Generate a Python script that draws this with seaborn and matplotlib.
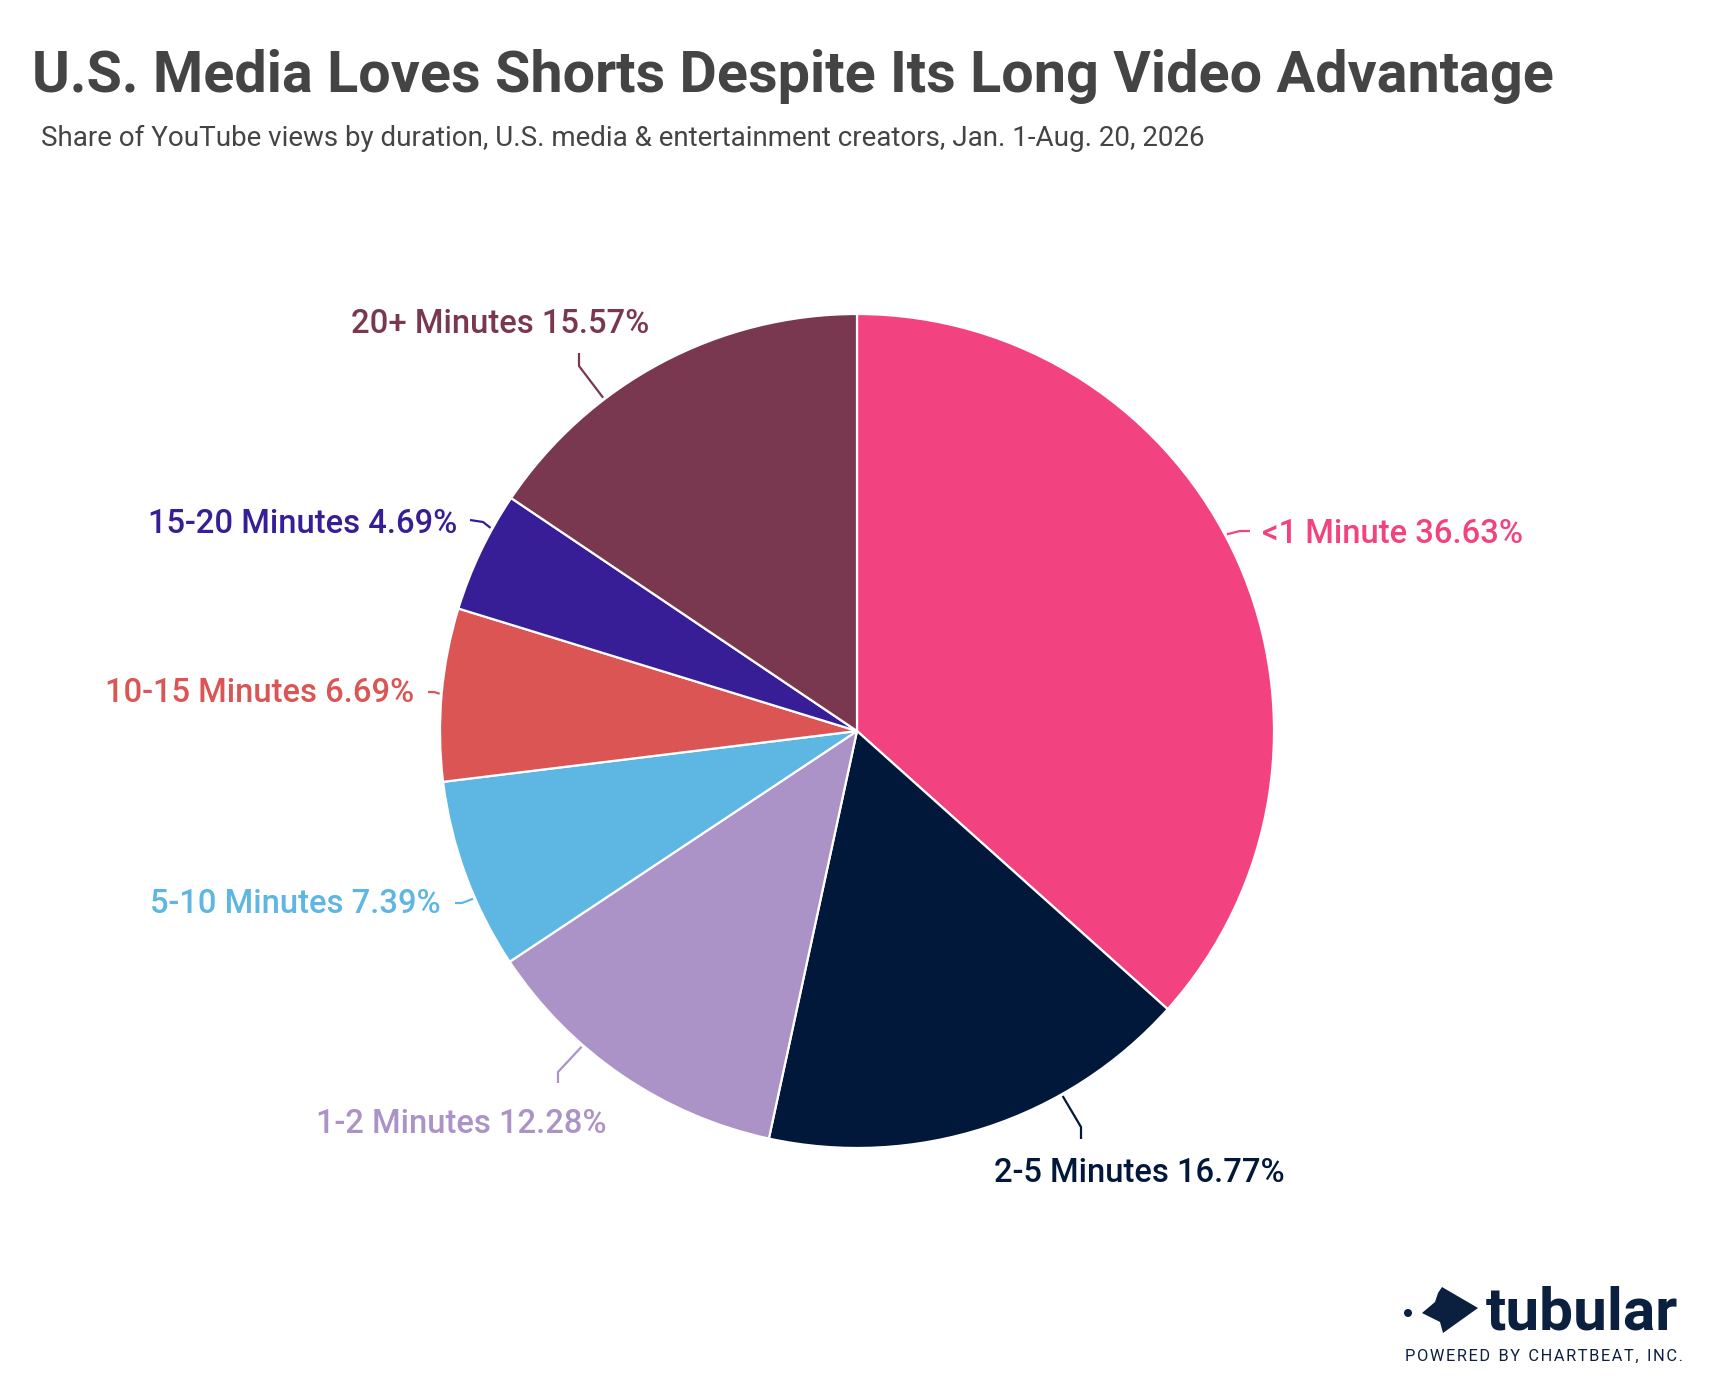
import matplotlib
matplotlib.use("Agg")
import matplotlib.pyplot as plt
import numpy as np
import seaborn as sns
from matplotlib.patches import Polygon, Circle

# data
categories = ["<1 Minute", "2-5 Minutes", "1-2 Minutes", "5-10 Minutes",
              "10-15 Minutes", "15-20 Minutes", "20+ Minutes"]
shares = [36.63, 16.77, 12.28, 7.39, 6.69, 4.69, 15.57]
colors = ["#F2427F", "#02183A", "#AC93C7", "#5EB6E2", "#DA5553", "#371E96", "#7A3850"]

TITLE = "U.S. Media Loves Shorts Despite Its Long Video Advantage"
SUBTITLE = "Share of YouTube views by duration, U.S. media & entertainment creators, Jan. 1-Aug. 20, 2026"

W, H = 1718, 1388
CX, CY, R = 857, 731, 417

# label layout (pixels, y down): leader anchor angle on rim (deg clockwise from top),
# elbow point, end point, text position, alignment
label_layout = {
    "<1 Minute":     dict(ang=62.0,  elbow=(1240, 531), end=(1250, 531), text=(1262, 543), ha="left"),
    "2-5 Minutes":   dict(ang=150.6, elbow=(1081, 1127), end=(1081, 1139), text=(1139, 1182), ha="center"),
    "1-2 Minutes":   dict(ang=221.1, elbow=(558, 1072), end=(558, 1083), text=(461, 1133), ha="center"),
    "5-10 Minutes":  dict(ang=246.4, elbow=(462, 903), end=(455, 903), text=(441, 913), ha="right"),
    "10-15 Minutes": dict(ang=275.1, elbow=(434, 692), end=(428, 692), text=(414, 702), ha="right"),
    "15-20 Minutes": dict(ang=299.0, elbow=(483, 522), end=(470, 520), text=(457, 533), ha="right"),
    "20+ Minutes":   dict(ang=322.7, elbow=(579, 366), end=(579, 353), text=(500, 333), ha="center"),
}

sns.set_style("white")
plt.rcParams["font.family"] = ["Roboto", "DejaVu Sans"]

palette = sns.color_palette(colors)

fig = plt.figure(figsize=(W / 100, H / 100), dpi=100)
fig.patch.set_facecolor("white")
ax = fig.add_axes([0, 0, 1, 1])

ax.pie(shares, colors=palette, center=(CX, CY), radius=R,
       startangle=-90, counterclock=True,
       wedgeprops=dict(edgecolor="white", linewidth=1.6))

ax.set_xlim(0, W)
ax.set_ylim(H, 0)
ax.set_aspect("auto")
ax.axis("off")

for cat, val, col in zip(categories, shares, palette):
    lay = label_layout[cat]
    a = np.deg2rad(lay["ang"])
    sx = CX + (R + 2) * np.sin(a)
    sy = CY - (R + 2) * np.cos(a)
    xs = [sx, lay["elbow"][0], lay["end"][0]]
    ys = [sy, lay["elbow"][1], lay["end"][1]]
    ax.plot(xs, ys, color=col, lw=1.6, solid_capstyle="butt", solid_joinstyle="round")
    tx, ty = lay["text"]
    ax.text(tx, ty, f"{cat} {val:.2f}%", color=col, fontsize=23.6, fontweight="medium",
            ha=lay["ha"], va="baseline")

# title block
ax.text(32, 92, TITLE, fontsize=41.4, fontweight="bold", color="#444444",
        ha="left", va="baseline")
ax.text(41, 146, SUBTITLE, fontsize=20, color="#444444", ha="left", va="baseline")

# tubular logo
navy = "#0B1F3F"
ax.add_patch(Polygon([(1422, 1313), (1435, 1302), (1438, 1293), (1442, 1287),
                      (1478, 1308), (1443, 1333), (1440, 1322)],
                     closed=True, facecolor=navy, edgecolor="none"))
ax.add_patch(Circle((1408, 1313), 4, facecolor=navy, edgecolor="none"))
ax.text(1486, 1330, "tubular", fontsize=43.5, fontweight="bold", color=navy,
        ha="left", va="baseline")
ax.text(1405, 1361, "P O W E R E D   B Y   C H A R T B E A T ,   I N C .".replace("   ", "\u2002").replace(" ", "\u200a"),
        fontsize=11.8, color=navy, ha="left", va="baseline")

fig.savefig("out.png", dpi=100, facecolor="white")
plt.close(fig)
